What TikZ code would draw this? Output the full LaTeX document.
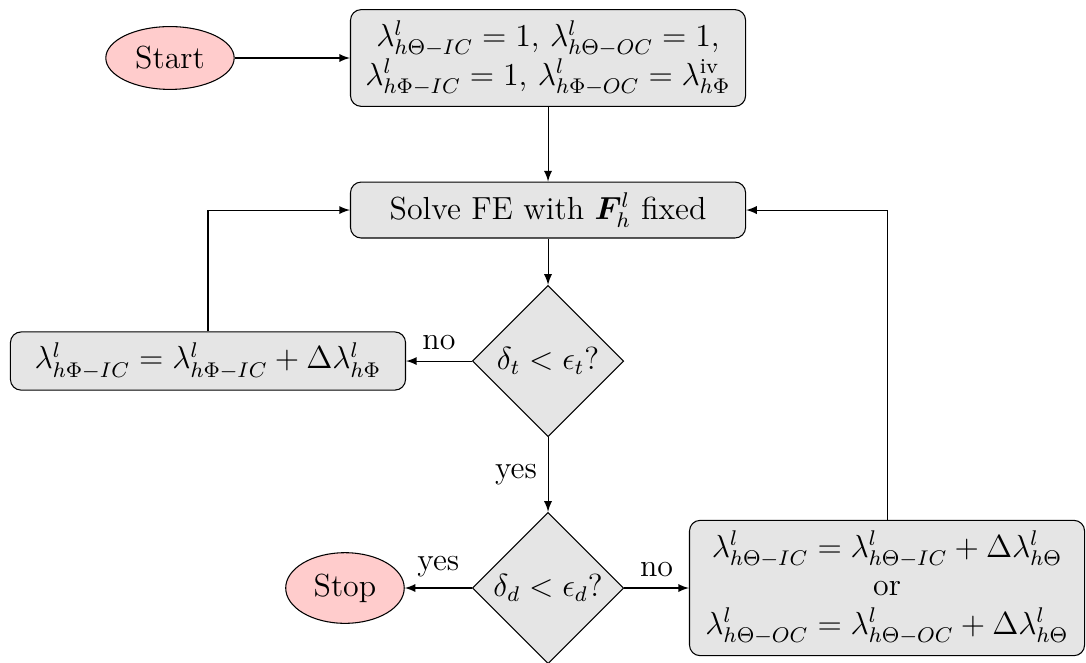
\documentclass[tikz,border=0pt,12pt]{standalone}
\usepackage{amsmath}
\usepackage{bm}
\usepackage{tikz}
\usetikzlibrary{shapes.geometric,arrows}
\tikzset{
  terminal/.style={ellipse, draw=black, fill=red!20},
  process/.style ={rectangle, rounded corners=4pt, draw=black, fill=gray!20, minimum width=5.22cm, inner xsep=3pt, align=center},
  decision/.style={diamond, draw=black, fill=gray!20, minimum width=2cm, minimum height=2cm, inner sep=0pt},
  arr/.style     ={->, >=latex, line width=0.4pt},
}

\begin{document}
\begin{tikzpicture}
  \useasboundingbox (0,0) rectangle (14.349,-8.747);
  \node[terminal] (start) at (2.246,-0.766) {Start};
  \node[process]  (init)  at (7.241,-0.766) {$\lambda^l_{h\Theta-IC}=1$, $\lambda^l_{h\Theta-OC}=1$,\\$\lambda^l_{h\Phi-IC}=1$, $\lambda^l_{h\Phi-OC}=\lambda^{\text{iv}}_{h\Phi}$};
  \node[process]  (solve) at (7.241,-2.775) {Solve FE with $\bm{F}^l_h$ fixed};
  \node[decision] (testT) at (7.241,-4.770) {$\delta_t<\epsilon_t$?};
  \node[process]  (updPhi) at (2.748,-4.770) {$\lambda^l_{h\Phi-IC}=\lambda^l_{h\Phi-IC}+\Delta\lambda^l_{h\Phi}$};
  \node[decision] (testD) at (7.241,-7.769) {$\delta_d<\epsilon_d$?};
  \node[terminal] (stop)  at (4.558,-7.769) {Stop};
  \node[process]  (updTheta) at (11.720,-7.769) {$\lambda^l_{h\Theta-IC}=\lambda^l_{h\Theta-IC}+\Delta\lambda^l_{h\Theta}$\\or\\$\lambda^l_{h\Theta-OC}=\lambda^l_{h\Theta-OC}+\Delta\lambda^l_{h\Theta}$};
  % connectors
  \draw[arr] (start) -- (init);
  \draw[arr] (init) -- (solve);
  \draw[arr] (solve) -- (testT);
  \draw[arr] (testT) -- node[above]{no} (updPhi);
  \draw[arr] (updPhi.north) |- (solve.west);
  \draw[arr] (testT) -- node[left]{yes} (testD);
  \draw[arr] (testD) -- node[above]{yes} (stop);
  \draw[arr] (testD) -- node[above]{no} (updTheta);
  \draw[arr] (updTheta.north) |- (solve.east);
\end{tikzpicture}
\end{document}
